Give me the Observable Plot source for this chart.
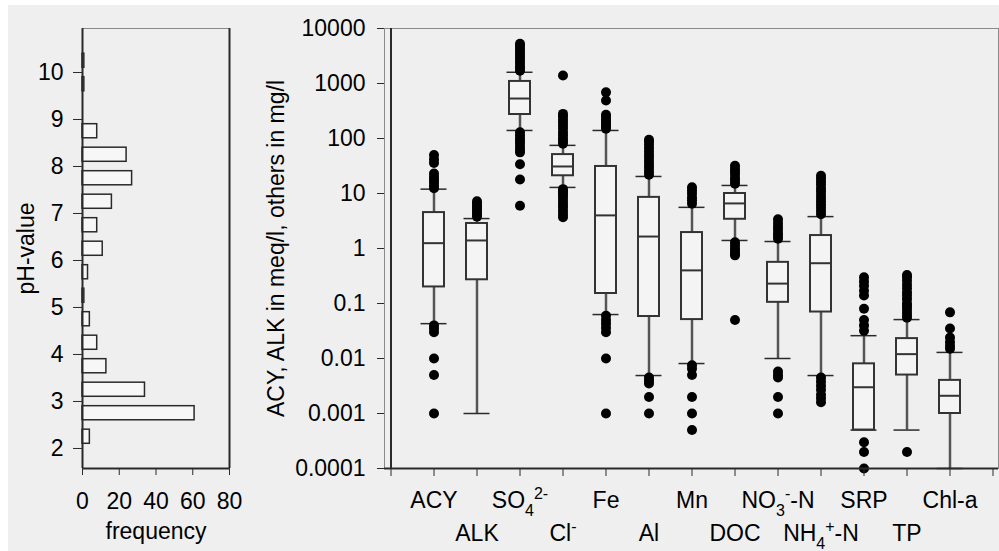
<!DOCTYPE html>
<html><head><meta charset="utf-8">
<script src="https://cdn.jsdelivr.net/npm/d3@7"></script>
<script src="https://cdn.jsdelivr.net/npm/@observablehq/plot@0.6"></script>
<style>
body{margin:0;background:#fff;}
#wrap{position:relative;width:999px;height:551px;overflow:hidden;}
#bg{position:absolute;left:8px;top:5px;right:0;bottom:0;background:#efefef;}
#left{position:absolute;left:0;top:0;}
#right{position:absolute;left:240px;top:0;}
svg{overflow:visible;}
</style></head><body>
<div id="wrap"><div id="bg"></div><div id="left"></div><div id="right"></div></div>
<script>
// ---- histogram of pH ----
const phBinStart = [2.0, 2.5, 3.0, 3.5, 4.0, 4.5, 5.0, 5.5, 6.0, 6.5, 7.0, 7.5, 8.0, 8.5, 9.0, 9.5, 10.0];
const phFrequency = [4, 61, 34, 13, 8, 4, 1, 3, 11, 8, 16, 27, 24, 8, 0, 1, 1];
const phTicks = [2, 3, 4, 5, 6, 7, 8, 9, 10];
const freqTicks = [0, 20, 40, 60, 80];
const phDomain = [1.574, 10.936];
const freqDomain = [0, 80];

// ---- box plots ----
const categories = ["ACY", "ALK", "SO4", "Cl", "Fe", "Al", "Mn", "DOC", "NO3-N", "NH4-N", "SRP", "TP", "Chl-a"];
const categoryLabels = ["ACY", "ALK", "SO_{4}^{2-}", "Cl^{-}", "Fe", "Al", "Mn", "DOC", "NO_{3}^{-}-N", "NH_{4}^{+}-N", "SRP", "TP", "Chl-a"];
const whiskerLow  = [0.043, 0.001, 140, 12.9, 0.063, 0.0049, 0.0081, 1.4, 0.01, 0.0049, 0.0005, 0.0005, 0.0001];
const quartile1   = [0.2, 0.27, 273, 21, 0.152, 0.058, 0.051, 3.4, 0.105, 0.07, 0.0005, 0.005, 0.001];
const median      = [1.25, 1.4, 533, 31, 4, 1.65, 0.4, 6.6, 0.23, 0.54, 0.003, 0.012, 0.0021];
const quartile3   = [4.5, 2.85, 1090, 51, 31, 8.5, 1.95, 10, 0.56, 1.72, 0.008, 0.023, 0.004];
const whiskerHigh = [12, 3.5, 1600, 75, 140, 20.4, 5.6, 14, 1.34, 3.8, 0.026, 0.051, 0.0129];
const outliers = [
  [12.5, 14, 16, 18, 20, 23, 36, 42, 50, 0.04, 0.035, 0.03, 0.01, 0.005, 0.001],
  [3.8, 4.2, 4.6, 5.0, 5.5, 6.0, 6.6, 7.2],
  [1700, 1900, 2100, 2400, 2700, 3000, 3400, 3800, 4300, 4800, 5300, 130, 115, 100, 90, 80, 70, 62, 56, 34, 18, 6],
  [80, 90, 100, 115, 130, 150, 170, 195, 220, 250, 280, 1400, 12, 11, 10, 9, 8, 7, 6.2, 5.5, 4.8, 4.2, 3.7],
  [150, 165, 180, 200, 220, 245, 270, 490, 690, 0.06, 0.05, 0.043, 0.036, 0.03, 0.01, 0.001],
  [22, 25, 29, 33, 38, 44, 50, 58, 67, 77, 88, 95, 0.0045, 0.004, 0.0035, 0.002, 0.001],
  [6.5, 7.5, 8.5, 10, 11.5, 13, 0.0075, 0.0065, 0.005, 0.002, 0.001, 0.0005],
  [15, 17, 19, 22, 25, 28, 32, 1.3, 1.15, 1.0, 0.9, 0.8, 0.75, 0.05],
  [1.5, 1.7, 1.9, 2.2, 2.5, 2.9, 3.4, 0.0058, 0.005, 0.0045, 0.002, 0.001],
  [4.2, 4.8, 5.5, 6.3, 7.2, 8.3, 9.5, 11, 12.5, 14.5, 16.5, 19, 21, 0.0045, 0.0038, 0.0032, 0.0027, 0.0022, 0.0019, 0.0016],
  [0.3, 0.25, 0.21, 0.17, 0.14, 0.08, 0.05, 0.04, 0.032, 0.0003, 0.0002, 0.0001],
  [0.055, 0.062, 0.07, 0.08, 0.09, 0.1, 0.12, 0.14, 0.16, 0.19, 0.22, 0.26, 0.3, 0.33, 0.0002],
  [0.069, 0.035, 0.024, 0.02, 0.017, 0.015]
];
const yTicks = [0.0001, 0.001, 0.01, 0.1, 1, 10, 100, 1000, 10000];
const yDomain = [0.0001, 10000];
const yLabel = "ACY, ALK in meq/l, others in mg/l";

const FONT = "'Liberation Sans', Arial, Helvetica, sans-serif";
const FS = 23;
const DARK = "#2a2a2a";

// ---------- left panel ----------
const hist = phBinStart.map((b, i) => ({b0: b, b1: b + 0.5, n: phFrequency[i]})).filter(d => d.n > 0);
const left = Plot.plot({
  width: 240, height: 551,
  marginLeft: 82, marginRight: 11, marginTop: 28, marginBottom: 83,
  style: {fontFamily: FONT, fontSize: FS + "px", background: "transparent", color: "#000"},
  x: {domain: freqDomain},
  y: {domain: phDomain},
  marks: [
    Plot.frame({stroke: "#8a8a8a", strokeWidth: 1}),
    Plot.rectX(hist, {x1: () => 0, x2: "n", y1: "b0", y2: "b1", insetTop: 4.7, insetBottom: 4.7,
      fill: "#f7f7f7", stroke: DARK, strokeWidth: 1.5}),
    Plot.ruleX([freqDomain[0]], {stroke: DARK, strokeWidth: 2}),
    Plot.ruleX([freqDomain[1]], {stroke: DARK, strokeWidth: 2}),
    Plot.ruleY([phDomain[0]], {stroke: DARK, strokeWidth: 2}),
    Plot.axisX({ticks: freqTicks, tickSize: 7, tickPadding: 17, fontSize: FS, label: null, stroke: DARK}),
    Plot.axisY({ticks: phTicks, tickSize: 9, tickPadding: 10, fontSize: FS, label: null, stroke: DARK}),
    Plot.text(["pH-value"], {text: d => d, frameAnchor: "left", textAnchor: "middle", rotate: -90, dx: -49, lineAnchor: "bottom", fontSize: FS}),
    Plot.text(["frequency"], {text: d => d, frameAnchor: "bottom", textAnchor: "middle", dy: 70, lineAnchor: "bottom", fontSize: FS})
  ]
});
document.getElementById("left").appendChild(left);

// ---------- right panel ----------
const xDomain = ["", ...categories, " "];
const labelOf = Object.fromEntries(categories.map((c, i) => [c, categoryLabels[i]]));
const boxes = categories.map((c, i) => ({c, lo: whiskerLow[i], q1: quartile1[i], med: median[i], q3: quartile3[i], hi: whiskerHigh[i]}));
const pts = categories.flatMap((c, i) => outliers[i].map(v => ({c, v})));
const PI = 0.52;

const right = Plot.plot({
  width: 759, height: 551,
  marginLeft: 144, marginRight: 1, marginTop: 28, marginBottom: 83,
  style: {fontFamily: FONT, fontSize: FS + "px", background: "transparent", color: "#000"},
  x: {type: "band", domain: xDomain, paddingInner: PI, paddingOuter: -(1 - PI) / 2, align: 0.5},
  y: {type: "log", domain: yDomain},
  marks: [
    Plot.frame({stroke: "#8a8a8a", strokeWidth: 1}),
    Plot.ruleX(boxes, {x: "c", y1: "lo", y2: "q1", stroke: "#555", strokeWidth: 2.5}),
    Plot.ruleX(boxes, {x: "c", y1: "q3", y2: "hi", stroke: "#555", strokeWidth: 2.5}),
    Plot.tickY(boxes, {x: "c", y: "lo", insetLeft: -2.5, insetRight: -2.5, stroke: DARK, strokeWidth: 1.5}),
    Plot.tickY(boxes, {x: "c", y: "hi", insetLeft: -2.5, insetRight: -2.5, stroke: DARK, strokeWidth: 1.5}),
    Plot.barY(boxes, {x: "c", y1: "q1", y2: "q3", fill: "#f4f4f4", stroke: "#333", strokeWidth: 2}),
    Plot.tickY(boxes, {x: "c", y: "med", stroke: "#333", strokeWidth: 2}),
    Plot.dot(pts, {x: "c", y: "v", r: 5, fill: "#000", stroke: null}),
    Plot.ruleX([xDomain[0]], {stroke: DARK, strokeWidth: 2}),
    Plot.ruleY([yDomain[0]], {stroke: DARK, strokeWidth: 2}),
    Plot.axisY({ticks: yTicks, tickFormat: d => String(d), tickSize: 7, tickPadding: 12, fontSize: FS, label: null, stroke: DARK}),
    Plot.axisX({tickFormat: () => "", tickSize: 8, label: null, stroke: DARK}),
    Plot.text(categories.filter((c, i) => i % 2 === 0), {x: d => d, text: d => labelOf[d], frameAnchor: "bottom", textAnchor: "middle", dy: 39, lineAnchor: "bottom", fontSize: FS}),
    Plot.text(categories.filter((c, i) => i % 2 === 1), {x: d => d, text: d => labelOf[d], frameAnchor: "bottom", textAnchor: "middle", dy: 72, lineAnchor: "bottom", fontSize: FS}),
    Plot.text([yLabel], {text: d => d, frameAnchor: "left", textAnchor: "middle", rotate: -90, dx: -101, lineAnchor: "bottom", fontSize: FS})
  ]
});
document.getElementById("right").appendChild(right);

// sub/superscripts in category labels
d3.select(right).selectAll("text").each(function() {
  const s = this.textContent;
  if (!/[_^]\{/.test(s)) return;
  const el = d3.select(this);
  el.text(null);
  let cur = 0;
  const re = /([_^])\{([^}]*)\}|([^_^]+)/g;
  let m;
  while ((m = re.exec(s))) {
    const target = m[1] === "_" ? 8 : m[1] === "^" ? -9 : 0;
    const t = el.append("tspan").attr("dy", target - cur).text(m[1] ? m[2] : m[3]);
    if (m[1]) t.attr("font-size", 16);
    cur = target;
  }
});
</script>
</body></html>
